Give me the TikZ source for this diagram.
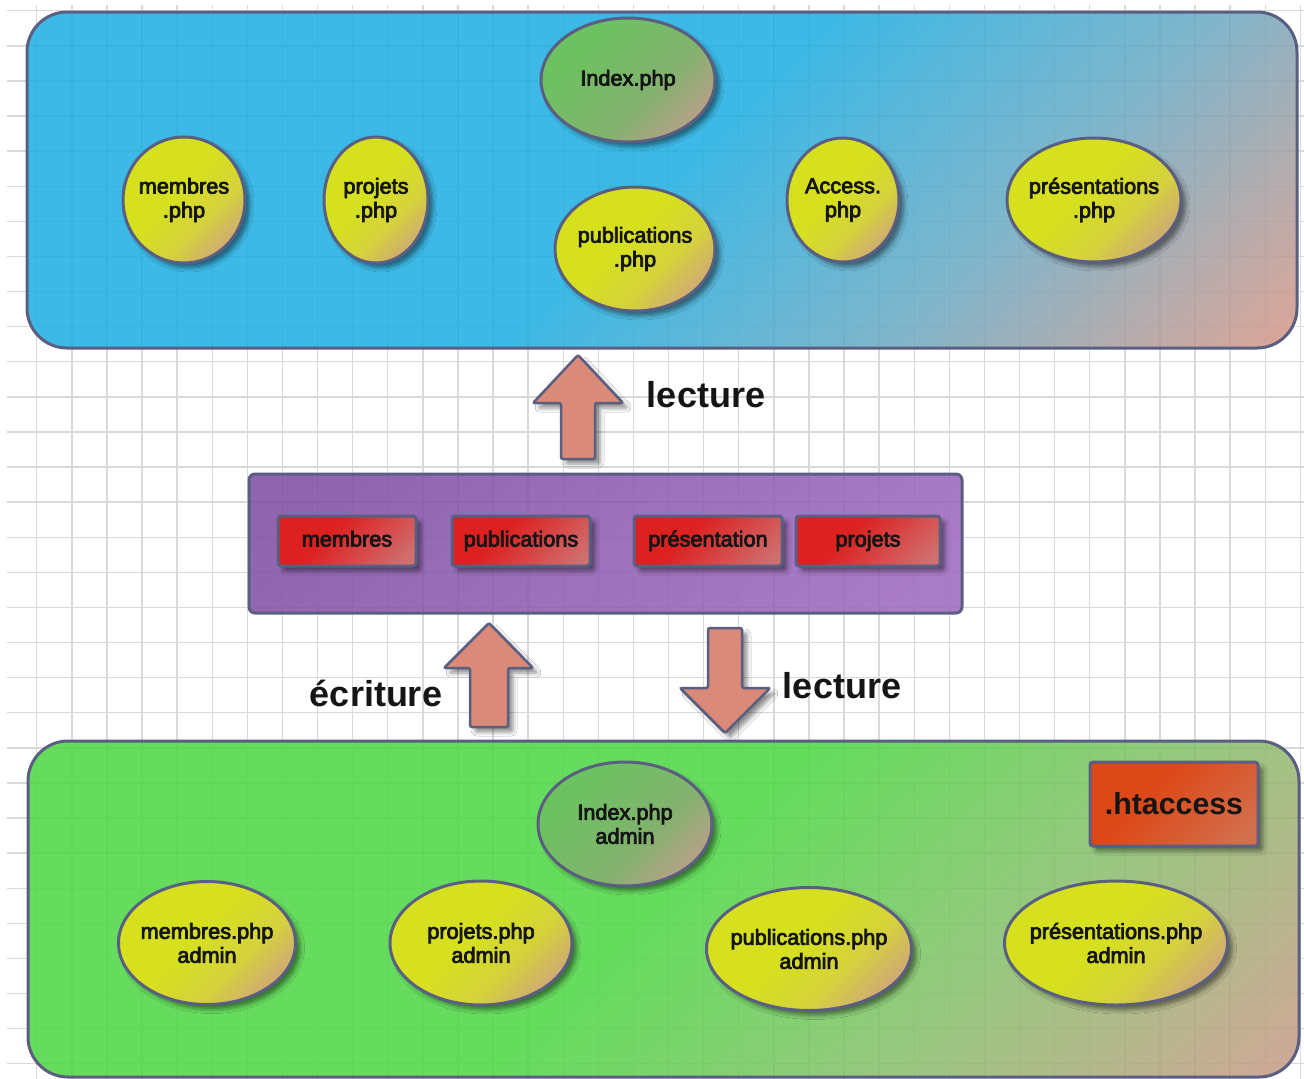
\documentclass[tikz,border=0pt]{standalone}
\usepackage{fontspec}
\setmainfont{Liberation Sans}
\newfontfamily\lblfont{Liberation Sans}[FakeBold=3.5]
\usetikzlibrary{positioning, shapes.geometric, shadows.blur}
\definecolor{rim}{HTML}{5A5E80}
\definecolor{gridgray}{HTML}{D9D9D9}
\definecolor{skyA}{HTML}{1CAEE2}
\definecolor{skyM}{HTML}{6AAAC4}
\definecolor{skyB}{HTML}{D69787}
\definecolor{grassA}{HTML}{4DD744}
\definecolor{grassM}{HTML}{87BF6B}
\definecolor{grassB}{HTML}{C89A87}
\definecolor{yelA}{HTML}{D6E01E}
\definecolor{yelM}{HTML}{D5D23C}
\definecolor{yelB}{HTML}{CFA877}
\definecolor{idxA}{HTML}{6CC260}
\definecolor{idxM}{HTML}{82B26E}
\definecolor{idxB}{HTML}{B8A088}
\definecolor{redA}{HTML}{DD2020}
\definecolor{redB}{HTML}{D07070}
\definecolor{purA}{HTML}{7D4CA3}
\definecolor{purB}{HTML}{9C67BF}
\definecolor{oraA}{HTML}{DD4818}
\definecolor{oraB}{HTML}{D2704E}
\definecolor{salmon}{HTML}{D98A78}
\definecolor{ink}{HTML}{151515}
\pgfdeclareverticalshading{skyfill}{100bp}{color(0bp)=(skyB); color(15bp)=(skyB); color(33bp)=(skyM); color(50bp)=(skyA); color(100bp)=(skyA)}
\pgfdeclareverticalshading{grassfill}{100bp}{color(0bp)=(grassB); color(15bp)=(grassB); color(33bp)=(grassM); color(50bp)=(grassA); color(100bp)=(grassA)}
\pgfdeclareverticalshading{yelfill}{100bp}{color(0bp)=(yelB); color(24bp)=(yelB); color(38bp)=(yelM); color(54bp)=(yelA); color(100bp)=(yelA)}
\pgfdeclareverticalshading{idxfill}{100bp}{color(0bp)=(idxB); color(24bp)=(idxB); color(42bp)=(idxM); color(70bp)=(idxA); color(100bp)=(idxA)}
\pgfdeclareverticalshading{redfill}{100bp}{color(0bp)=(redB); color(20bp)=(redB); color(60bp)=(redA); color(100bp)=(redA)}
\pgfdeclareverticalshading{purfill}{100bp}{color(0bp)=(purB); color(20bp)=(purB); color(80bp)=(purA); color(100bp)=(purA)}
\pgfdeclareverticalshading{orafill}{100bp}{color(0bp)=(oraB); color(20bp)=(oraB); color(60bp)=(oraA); color(100bp)=(oraA)}

\begin{document}
\begin{tikzpicture}[x=1pt, y=-1pt,
    gridline/.style={draw=gridgray, line width=1.4pt},
    panel/.style={draw=rim, line width=3pt, rounded corners=40pt, shade, shading angle=45, fill opacity=.86, outer sep=0pt},
    soft/.style={blur shadow={shadow xshift=5pt, shadow yshift=-5pt, shadow blur radius=4pt, shadow opacity=45}},
    page/.style={ellipse, draw=rim, line width=3pt, shade, shading=yelfill, shading angle=45, soft, inner xsep=-12pt, inner ysep=0pt, align=center, text=ink, font=\lblfont\fontsize{21.7}{24}\selectfont},
    home/.style={page, shading=idxfill},
    tbl/.style={draw=rim, line width=3pt, rounded corners=3pt, shade, shading=redfill, shading angle=45, soft, minimum height=50pt, text height=16pt, text depth=5pt, outer sep=0pt, text=ink, font=\lblfont\fontsize{21.7}{24}\selectfont},
    lock/.style={draw=rim, line width=3pt, rounded corners=3pt, shade, shading=orafill, shading angle=45, soft, text=ink, font=\bfseries\fontsize{30.3}{34}\selectfont},
    bigarrow/.style={draw=rim, line width=2.5pt, fill=salmon, rounded corners=2pt, soft},
    tag/.style={inner sep=0pt, text=ink, font=\bfseries\fontsize{36}{40}\selectfont}]
  \useasboundingbox (0,0) rectangle (1304,1079);
  \fill[white] (0,0) rectangle (1304,1079);
  % background grid
  \foreach \k in {0,...,30} \draw[gridline] (7,10.7+35.1*\k) -- (1304,10.7+35.1*\k);
  \foreach \k in {0,...,36} \draw[gridline] (36.7+35.1*\k,5) -- (36.7+35.1*\k,1079);

  % public site
  \node[panel, shading=skyfill, minimum width=1270pt, minimum height=336pt] (site) at (662,180) {};
  \node[home, minimum width=174pt, minimum height=124pt] (index) at (628,80) {Index.php};
  \node[page, minimum width=122pt, minimum height=126pt] (membres) at (184,200) {membres\\.php};
  \node[page, minimum width=104pt, minimum height=126pt] (projets) at (376,200) {projets\\.php};
  \node[page, minimum width=160pt, minimum height=124pt] (publis) at (635,249) {publications\\.php};
  \node[page, minimum width=112pt, minimum height=124pt] (access) at (843,200) {Access.\\php};
  \node[page, minimum width=174pt, minimum height=124pt] (presents) at (1094,200) {présentations\\.php};

  % database
  \node[panel, rounded corners=6pt, shading=purfill, minimum width=713pt, minimum height=139pt] (db) at (605.5,543.5) {};
  \node[tbl, minimum width=138pt] (tmembres) at (347,541) {membres};
  \node[tbl, minimum width=138pt, right=36pt of tmembres] (tpublis) {publications};
  \node[tbl, minimum width=148pt, right=44pt of tpublis] (tpresents) {présentation};
  \node[tbl, minimum width=144pt, right=14pt of tpresents] (tprojets) {projets};

  % admin site
  \node[panel, shading=grassfill, minimum width=1271pt, minimum height=336pt] (admin) at (663.5,909) {};
  \node[home, minimum width=174pt, minimum height=124pt] (aindex) at (625,824) {Index.php\\admin};
  \node[page, minimum width=177pt, minimum height=123pt] (amembres) at (207,943) {membres.php\\admin};
  \node[page, minimum width=182pt, minimum height=124pt] (aprojets) at (481,943) {projets.php\\admin};
  \node[page, minimum width=205pt, minimum height=123pt] (apublis) at (809,949) {publications.php\\admin};
  \node[page, minimum width=223pt, minimum height=124pt] (apresents) at (1116,943) {présentations.php\\admin};
  \node[lock, minimum width=168pt, minimum height=84pt] (htaccess) at (1174,804) {.htaccess};

  % read / write arrows
  \coordinate (readup) at (578,459);
  \coordinate (writeup) at (489,727);
  \coordinate (readdown) at (725,628);
  \draw[bigarrow, shift={(readup)}] (-17,0) -- (-17,-56) -- (-45,-56) -- (0,-104) -- (45,-56) -- (17,-56) -- (17,0) -- cycle;
  \draw[bigarrow, shift={(writeup)}] (-19,0) -- (-19,-59) -- (-45,-59) -- (0,-104) -- (44,-59) -- (19,-59) -- (19,0) -- cycle;
  \draw[bigarrow, shift={(readdown)}] (-17,0) -- (-17,60) -- (-45,60) -- (0,105) -- (45,60) -- (17,60) -- (17,0) -- cycle;
  \node[tag] (lread) at (706,395) {lecture};
  \node[tag] (lwrite) at (376,693) {écriture};
  \node[tag] (lread2) at (842,686) {lecture};
\end{tikzpicture}
\end{document}
